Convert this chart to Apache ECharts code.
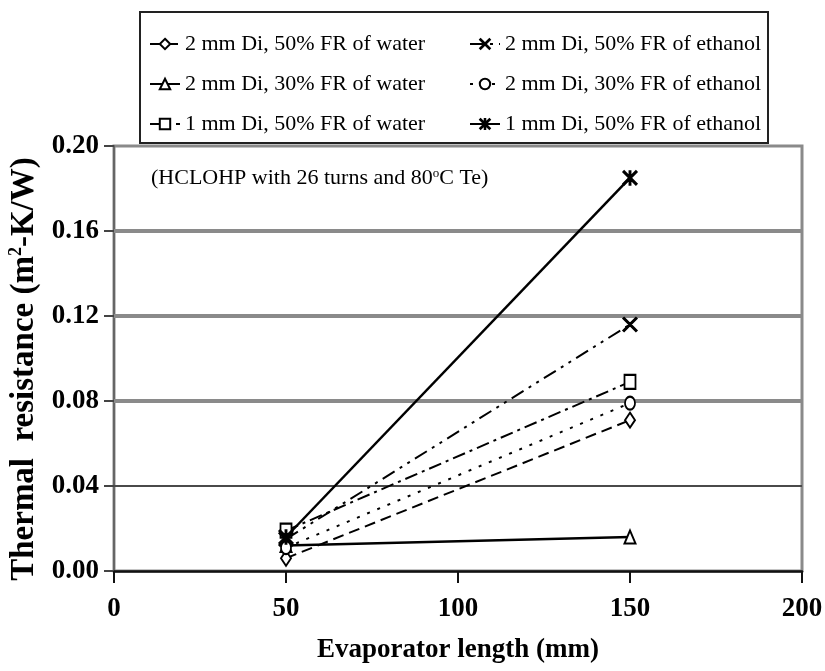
<!DOCTYPE html>
<html>
<head>
<meta charset="utf-8">
<script src="https://cdn.jsdelivr.net/npm/echarts@6/dist/echarts.min.js"></script>
<style>
  html, body { margin: 0; padding: 0; background: #fff; }
  #chart { width: 825px; height: 671px; }
</style>
</head>
<body>
<div id="chart"></div>
<script>
// Evaporator lengths (mm)
const evaporatorLength = [50, 150];

// Thermal resistance (m2-K/W) per configuration
const water2mm50 = [0.006, 0.071];
const water2mm30 = [0.012, 0.016];
const water1mm50 = [0.019, 0.089];
const ethanol2mm50 = [0.015, 0.116];
const ethanol2mm30 = [0.011, 0.079];
const ethanol1mm50 = [0.016, 0.185];

const seriesNames = [
  '2 mm Di, 50% FR of water',
  '2 mm Di, 30% FR of water',
  '1 mm Di, 50% FR of water',
  '2 mm Di, 50% FR of ethanol',
  '2 mm Di, 30% FR of ethanol',
  '1 mm Di, 50% FR of ethanol'
];

const yTicks = [0.04, 0.08, 0.12, 0.16];

const FONT = '"Liberation Serif", "Times New Roman", serif';

const crossPath = 'path://M0,0.8L0.8,0L10,9.2L9.2,10Z M9.2,0L10,0.8L0.8,10L0,9.2Z';
const starPath = 'path://M0,0.8L0.8,0L10,9.2L9.2,10Z M9.2,0L10,0.8L0.8,10L0,9.2Z M4.5,0L5.5,0L5.5,10L4.5,10Z';

function pairs(values) {
  return evaporatorLength.map((x, i) => [x, values[i]]);
}

function lineSeries(name, values, symbol, size, dash, width) {
  return {
    name: name,
    type: 'line',
    data: pairs(values),
    z: 5,
    symbol: symbol,
    symbolSize: size,
    color: '#000',
    itemStyle: { color: '#000', borderColor: '#000', borderWidth: 1.5 },
    lineStyle: { color: '#000', width: width, type: dash },
    emphasis: { disabled: true }
  };
}

const chart = echarts.init(document.getElementById('chart'));

const legendText = { fontFamily: FONT, fontSize: 22, color: '#000' };

chart.setOption({
  animation: false,
  backgroundColor: '#fff',
  grid: {
    left: 114, right: 23, top: 146, bottom: 100,
    outerBoundsMode: 'none',
    show: true, borderColor: '#8a8a8a', borderWidth: 3, backgroundColor: 'transparent'
  },
  legend: [
    {
      data: [seriesNames[0], seriesNames[1], seriesNames[2]],
      orient: 'vertical', left: 144, top: 28, itemGap: 18,
      itemWidth: 30, itemHeight: 13, itemStyle: { borderWidth: 1.5 },
      textStyle: legendText, selectedMode: false
    },
    {
      data: [seriesNames[3], seriesNames[4], seriesNames[5]],
      orient: 'vertical', left: 464, top: 28, itemGap: 18,
      itemWidth: 30, itemHeight: 13, itemStyle: { borderWidth: 1.5 },
      textStyle: legendText, selectedMode: false
    }
  ],
  graphic: [
    {
      type: 'rect', z: 100,
      shape: { x: 140, y: 12, width: 628, height: 131 },
      style: { fill: 'none', stroke: '#222', lineWidth: 2 }
    },
    {
      type: 'text', z: 100, left: 151, top: 167,
      style: {
        text: '(HCLOHP with 26 turns and 80{sup|o}C Te)',
        font: '22px ' + FONT, fill: '#000',
        rich: { sup: { fontSize: 13, verticalAlign: 'top', padding: [0, 0, 10, 0], fontFamily: FONT } }
      }
    }
  ],
  xAxis: {
    type: 'value', min: 0, max: 200, interval: 50,
    name: 'Evaporator length (mm)', nameLocation: 'middle', nameGap: 66,
    nameTextStyle: { fontFamily: FONT, fontSize: 27, fontWeight: 'bold', color: '#000' },
    axisLine: { show: true, lineStyle: { color: '#111', width: 2.5 } },
    axisTick: { show: true, length: 12, lineStyle: { color: '#111', width: 2 } },
    axisLabel: { fontFamily: FONT, fontSize: 27, fontWeight: 'bold', color: '#000', margin: 25 },
    splitLine: { show: false }
  },
  yAxis: {
    type: 'value', min: 0, max: 0.2, interval: 0.04,
    name: 'Thermal  resistance (m{sup|2}-K/W)', nameLocation: 'middle', nameGap: 69,
    nameTextStyle: {
      fontFamily: FONT, fontSize: 33, fontWeight: 'bold', color: '#000',
      padding: [0, 21, 0, 0],
      rich: { sup: { fontFamily: FONT, fontSize: 18, fontWeight: 'bold', verticalAlign: 'top', padding: [0, 0, 16, 0] } }
    },
    axisLine: { show: true, lineStyle: { color: '#666', width: 2 } },
    axisTick: { show: true, length: 10, lineStyle: { color: '#444', width: 2 } },
    axisLabel: {
      fontFamily: FONT, fontSize: 27, fontWeight: 'bold', color: '#000', margin: 15,
      formatter: v => v.toFixed(2)
    },
    splitLine: { show: false }
  },
  series: [
    {
      name: 'gridlines', type: 'line', data: [], z: 1, silent: true,
      markLine: {
        silent: true, symbol: 'none', label: { show: false },
        data: yTicks.map(v => ({
          yAxis: v,
          lineStyle: v === 0.04
            ? { color: '#4a4a4a', width: 2, type: 'solid' }
            : { color: '#8a8a8a', width: 4, type: 'solid' }
        }))
      }
    },
    lineSeries(seriesNames[0], water2mm50, 'emptyDiamond', [10, 15], [11, 6], 2),
    lineSeries(seriesNames[1], water2mm30, 'emptyTriangle', [11, 13], 'solid', 2.5),
    lineSeries(seriesNames[2], water1mm50, 'emptyRect', [11, 14], [13, 5, 3, 5], 2),
    lineSeries(seriesNames[3], ethanol2mm50, crossPath, [14, 14], [14, 6, 3, 6, 3, 6], 2),
    lineSeries(seriesNames[4], ethanol2mm30, 'emptyCircle', [10, 13], [3, 8], 2),
    lineSeries(seriesNames[5], ethanol1mm50, starPath, [14, 14], 'solid', 2.5)
  ]
});
</script>
</body>
</html>
